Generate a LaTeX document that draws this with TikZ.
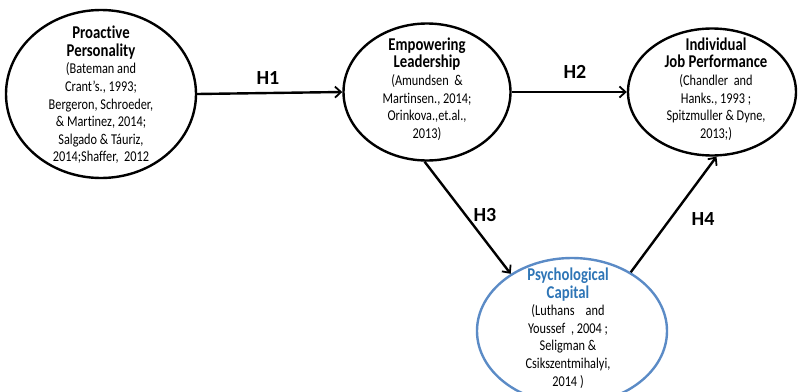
\documentclass[tikz,border=0pt]{standalone}
\usepackage{fontspec}
\setmainfont{Carlito}[FakeStretch=0.82, Ligatures=NoCommon]
\newfontfamily\hypfont{Carlito}[Ligatures=NoCommon]
\usetikzlibrary{shapes.geometric,arrows.meta}
\definecolor{capblue}{HTML}{2E75B6}
\definecolor{rimblue}{HTML}{5B8BC6}
\tikzset{
  rim/.style={ellipse, draw=black, line width=2.4pt, inner sep=0pt},
  blurb/.style={align=center, inner sep=0pt, font=\fontsize{15}{17.6}\selectfont},
  link/.style={line width=2.4pt, -{Straight Barb[length=6pt,width=11pt,line width=1.8pt]}},
  hyp/.style={font=\hypfont\bfseries\fontsize{20}{22}\selectfont, inner sep=0pt}
}
\newcommand{\ctitle}[1]{{\bfseries\fontsize{18}{22}\selectfont #1}}
\begin{document}
\begin{tikzpicture}[x=1pt,y=-1pt]
\useasboundingbox (0,0) rectangle (798,391);
\begin{scope}
\clip (0,0) rectangle (798,391);
% construct outlines
\node[rim, minimum width=190pt, minimum height=168pt] (pp) at (101,94) {};
\node[rim, minimum width=167pt, minimum height=137pt] (el) at (427,92) {};
\node[rim, minimum width=168pt, minimum height=127pt] (jp) at (712,92) {};
\node[rim, draw=rimblue, minimum width=190pt, minimum height=146pt] (pc) at (572,331) {};
% construct texts
\node[blurb] (ppt) at (101,95)
  {\ctitle{Proactive}\\ \ctitle{Personality}\\ (Bateman and\\ Crant's., 1993;\\ Bergeron, Schroeder,\\ \& Martinez, 2014;\\ Salgado \& Táuriz,\\ 2014;Shaffer,\ \ 2012};
\node[blurb] (elt) at (427,89)
  {\ctitle{Empowering}\\ \ctitle{Leadership}\\ (Amundsen\ \ \&\\ Martinsen., 2014;\\ Orinkova.,et.al.,\\ 2013)};
\node[blurb] (jpt) at (716,89)
  {\ctitle{Individual}\\ \ctitle{Job Performance}\\ (Chandler\ \ and\\ Hanks., 1993 ;\\ Spitzmuller \& Dyne,\\ 2013;)};
\node[blurb] (pct) at (568,328)
  {{\color{capblue}\ctitle{Psychological}}\\ {\color{capblue}\ctitle{Capital}}\\ (Luthans\ \ \ \ and\\ Youssef\ \ , 2004 ;\\ Seligman \&\\ Csikszentmihalyi,\\ 2014 )};
\end{scope}
% hypothesised paths
\draw[link] (pp.east) -- (el.west);
\draw[link] (el.east) -- (jp.west);
\draw[link] (el.268) -- (pc.137);
\draw[link] (pc.45) -- (jp.274);
\node[hyp] (h1) at (268,78) {H1};
\node[hyp] (h2) at (575,72) {H2};
\node[hyp] (h3) at (485,215) {H3};
\node[hyp] (h4) at (703,219) {H4};
\end{tikzpicture}
\end{document}
